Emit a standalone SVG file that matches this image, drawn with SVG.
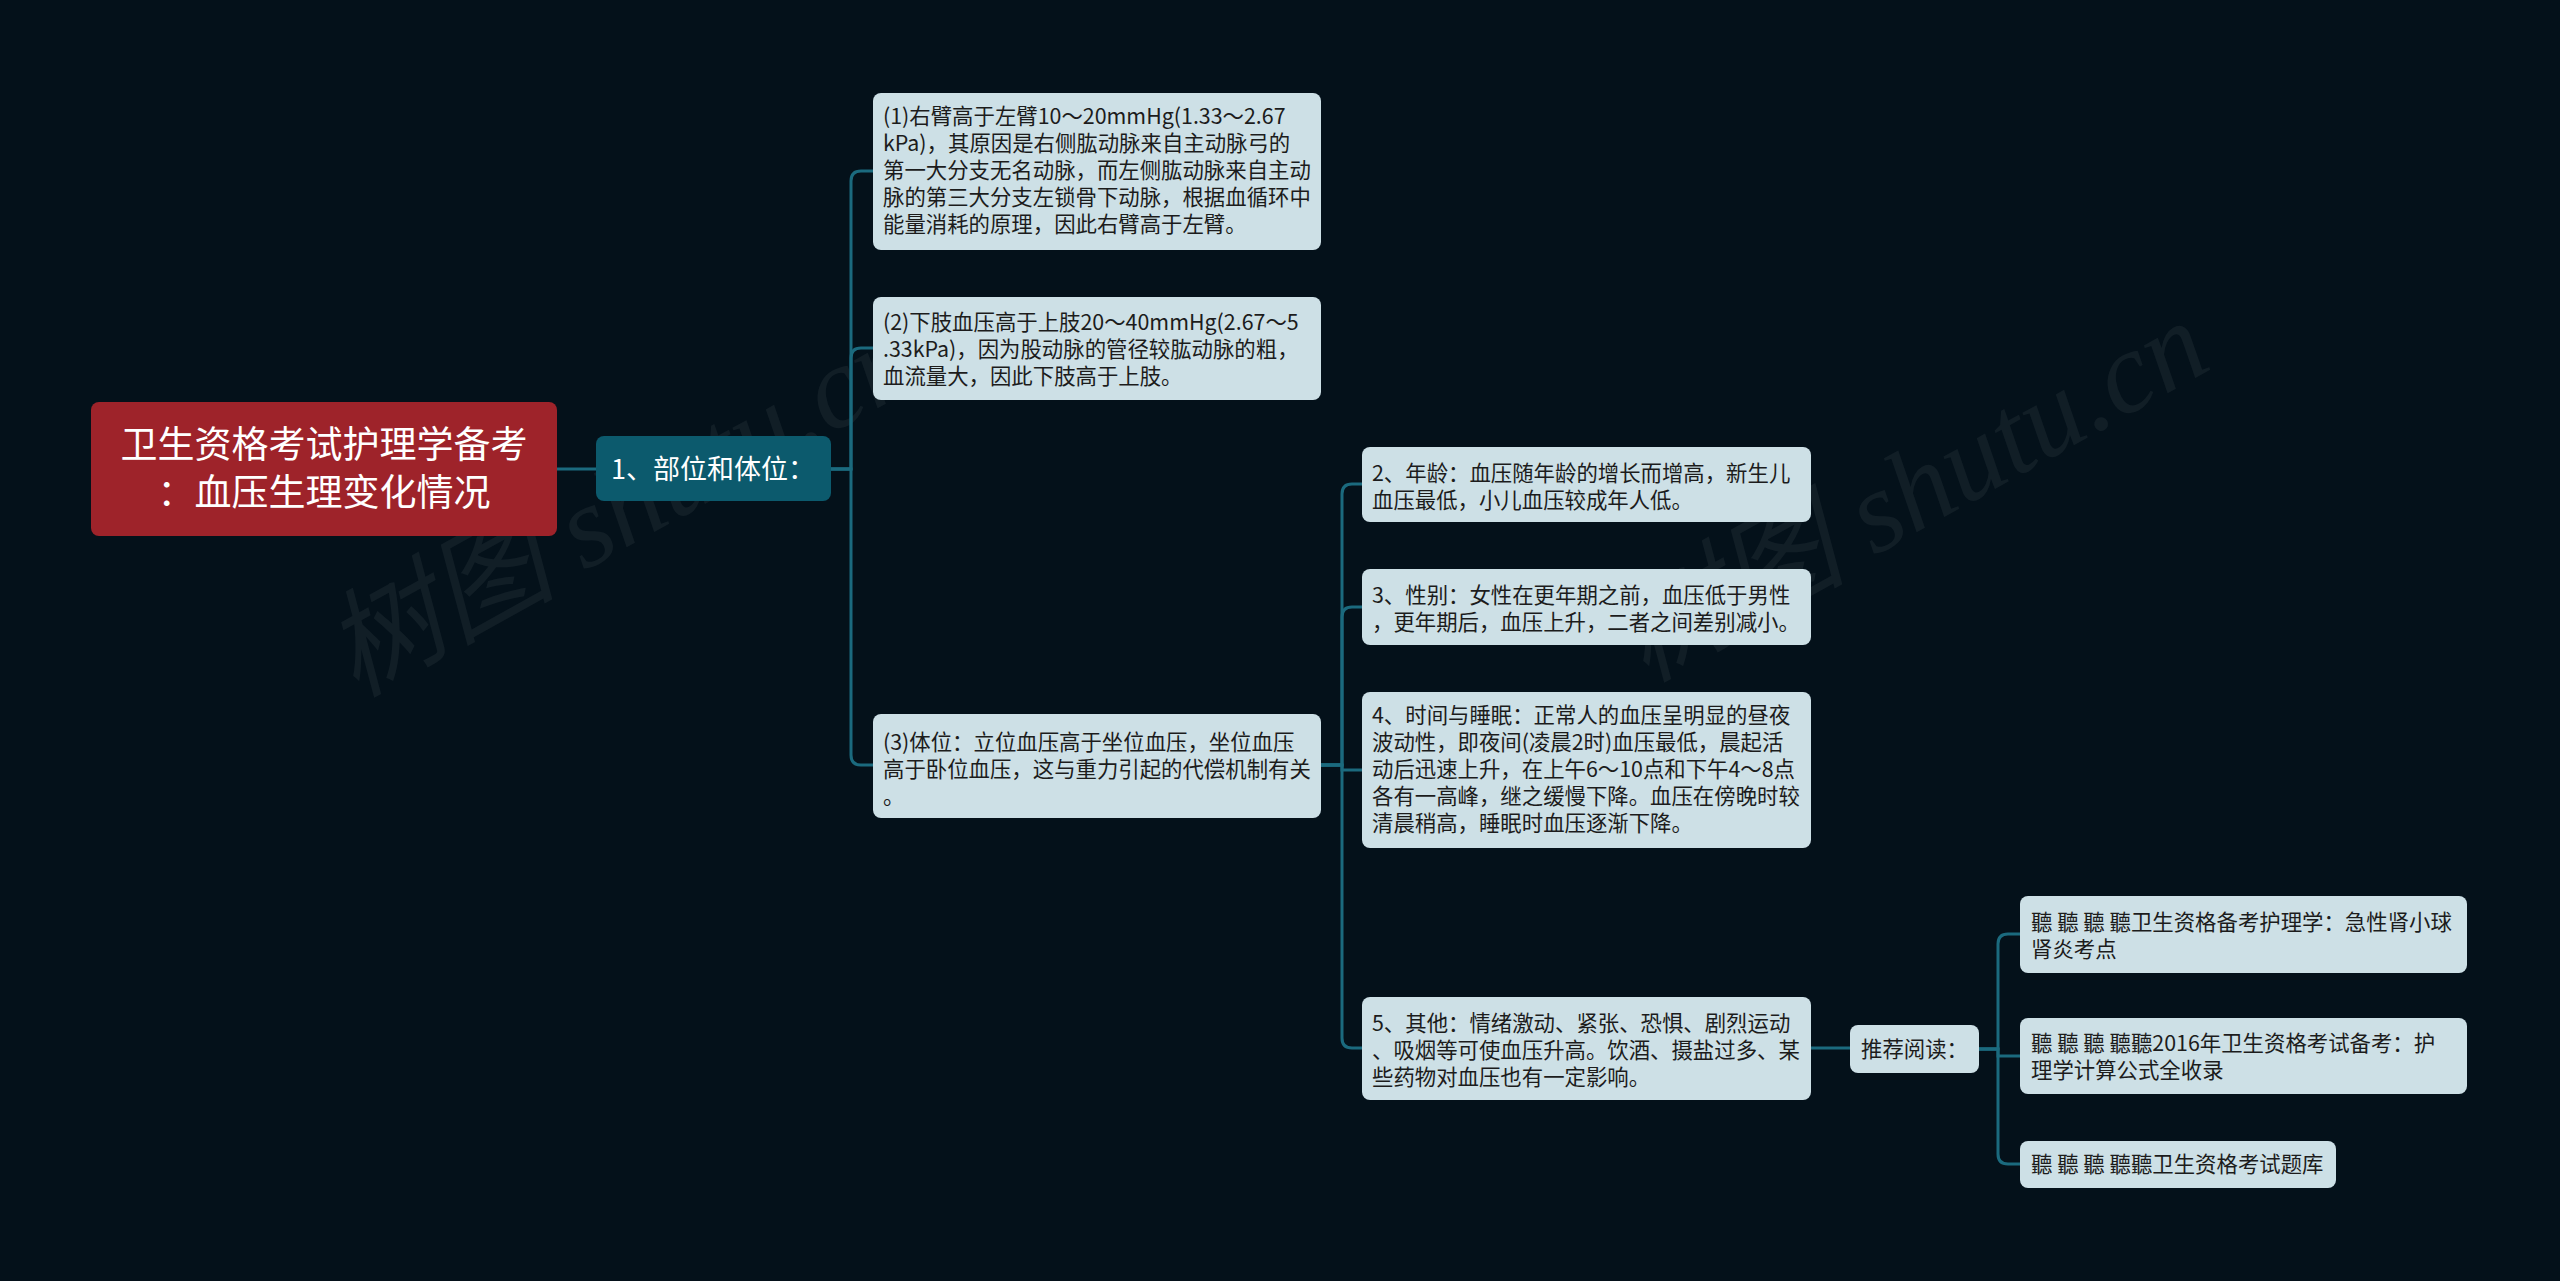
<svg xmlns="http://www.w3.org/2000/svg" width="2560" height="1281" viewBox="0 0 2560 1281">
<style>
.bg{fill:#04111a}
.wm{font-family:"Liberation Serif","Noto Sans CJK SC",serif;font-style:italic;font-size:116px;fill:#ffffff;fill-opacity:0.055}
.root rect{fill:#9e232a}
.root text{font-family:"Noto Sans CJK SC",sans-serif;font-size:37px;fill:#ffffff;text-anchor:middle}
.sub rect{fill:#0c5a6d}
.sub text{font-family:"Noto Sans CJK SC",sans-serif;font-size:27px;fill:#ffffff}
.leaf rect{fill:#cde0e6}
.leaf text{font-family:"Noto Sans CJK SC",sans-serif;font-size:21.4px;fill:#1c1c1c}
.conn path{fill:none;stroke:#1b6a7e;stroke-width:3}
</style>
<rect class="bg" x="0" y="0" width="2560" height="1281"/>
<text class="wm" x="640" y="540" text-anchor="middle" transform="rotate(-29 640 540)">树图 shutu.cn</text>
<text class="wm" x="1930" y="525" text-anchor="middle" transform="rotate(-29 1930 525)">树图 shutu.cn</text>
<g class="conn">
<path d="M557,469 H596"/>
<path d="M831,469 H851 V181 Q851,171 861,171 H873"/>
<path d="M831,469 H851 V358 Q851,348 861,348 H873"/>
<path d="M831,469 H851 V755 Q851,765 861,765 H873"/>
<path d="M1321,765 H1342 V494 Q1342,484 1352,484 H1362"/>
<path d="M1321,765 H1342 V617 Q1342,607 1352,607 H1362"/>
<path d="M1321,765 H1342 V770 H1362"/>
<path d="M1321,765 H1342 V1038 Q1342,1048 1352,1048 H1362"/>
<path d="M1811,1048 H1850"/>
<path d="M1979,1049 H1998 V944 Q1998,934 2008,934 H2020"/>
<path d="M1979,1049 H1998 V1056 H2020"/>
<path d="M1979,1049 H1998 V1154 Q1998,1164 2008,1164 H2020"/>
</g>
<g id="root" class="root">
<rect x="91" y="402" width="466" height="134" rx="8"/>
<text x="324" y="458">卫生资格考试护理学备考</text>
<text x="324" y="506">：血压生理变化情况</text>
</g>
<g id="sub1" class="sub">
<rect x="596" y="436" width="235" height="65" rx="8"/>
<text x="611" y="479">1、部位和体位：</text>
</g>
<g id="leaf1" class="leaf">
<rect x="873" y="93" width="448" height="157" rx="8"/>
<text x="883" y="124">(1)右臂高于左臂10～20mmHg(1.33～2.67</text>
<text x="883" y="151">kPa)，其原因是右侧肱动脉来自主动脉弓的</text>
<text x="883" y="178">第一大分支无名动脉，而左侧肱动脉来自主动</text>
<text x="883" y="205">脉的第三大分支左锁骨下动脉，根据血循环中</text>
<text x="883" y="232">能量消耗的原理，因此右臂高于左臂。</text>
</g>
<g id="leaf2" class="leaf">
<rect x="873" y="297" width="448" height="103" rx="8"/>
<text x="883" y="330">(2)下肢血压高于上肢20～40mmHg(2.67～5</text>
<text x="883" y="357">.33kPa)，因为股动脉的管径较肱动脉的粗，</text>
<text x="883" y="384">血流量大，因此下肢高于上肢。</text>
</g>
<g id="leaf3" class="leaf">
<rect x="873" y="714" width="448" height="104" rx="8"/>
<text x="883" y="750">(3)体位：立位血压高于坐位血压，坐位血压</text>
<text x="883" y="777">高于卧位血压，这与重力引起的代偿机制有关</text>
<text x="883" y="804">。</text>
</g>
<g id="item2" class="leaf">
<rect x="1362" y="447" width="449" height="75" rx="8"/>
<text x="1372" y="481">2、年龄：血压随年龄的增长而增高，新生儿</text>
<text x="1372" y="508">血压最低，小儿血压较成年人低。</text>
</g>
<g id="item3" class="leaf">
<rect x="1362" y="569" width="449" height="76" rx="8"/>
<text x="1372" y="603">3、性别：女性在更年期之前，血压低于男性</text>
<text x="1372" y="630">，更年期后，血压上升，二者之间差别减小。</text>
</g>
<g id="item4" class="leaf">
<rect x="1362" y="692" width="449" height="156" rx="8"/>
<text x="1372" y="723">4、时间与睡眠：正常人的血压呈明显的昼夜</text>
<text x="1372" y="750">波动性，即夜间(凌晨2时)血压最低，晨起活</text>
<text x="1372" y="777">动后迅速上升，在上午6～10点和下午4～8点</text>
<text x="1372" y="804">各有一高峰，继之缓慢下降。血压在傍晚时较</text>
<text x="1372" y="831">清晨稍高，睡眠时血压逐渐下降。</text>
</g>
<g id="item5" class="leaf">
<rect x="1362" y="997" width="449" height="103" rx="8"/>
<text x="1372" y="1031">5、其他：情绪激动、紧张、恐惧、剧烈运动</text>
<text x="1372" y="1058">、吸烟等可使血压升高。饮酒、摄盐过多、某</text>
<text x="1372" y="1085">些药物对血压也有一定影响。</text>
</g>
<g id="rec" class="leaf">
<rect x="1850" y="1025" width="129" height="48" rx="8"/>
<text x="1861" y="1057">推荐阅读：</text>
</g>
<g id="rec1" class="leaf">
<rect x="2020" y="896" width="447" height="77" rx="8"/>
<text x="2031" y="930">聽 聽 聽 聽卫生资格备考护理学：急性肾小球</text>
<text x="2031" y="957">肾炎考点</text>
</g>
<g id="rec2" class="leaf">
<rect x="2020" y="1018" width="447" height="76" rx="8"/>
<text x="2031" y="1051">聽 聽 聽 聽聽2016年卫生资格考试备考：护</text>
<text x="2031" y="1078">理学计算公式全收录</text>
</g>
<g id="rec3" class="leaf">
<rect x="2020" y="1141" width="316" height="47" rx="8"/>
<text x="2031" y="1172">聽 聽 聽 聽聽卫生资格考试题库</text>
</g>
</svg>
